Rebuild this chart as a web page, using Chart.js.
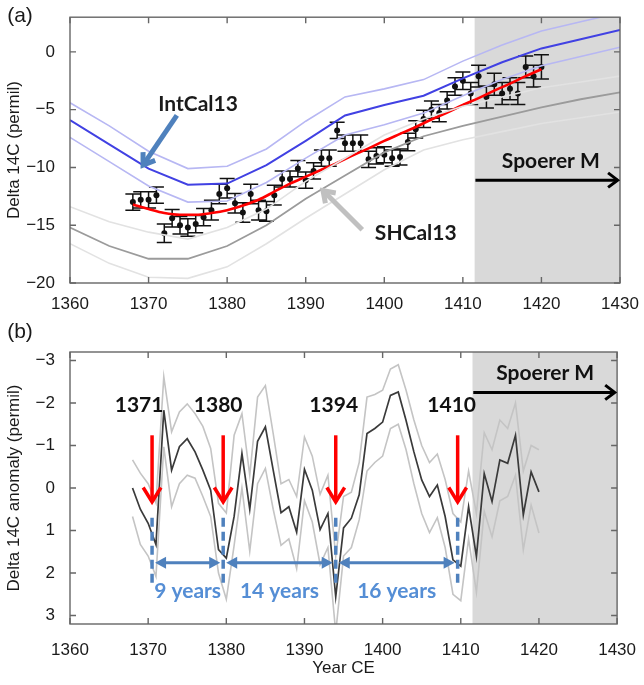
<!DOCTYPE html>
<html><head><meta charset="utf-8">
<script src="https://cdn.jsdelivr.net/npm/chart.js@4.4.1/dist/chart.umd.min.js"></script>
<style>
body{margin:0;background:#fff;width:644px;height:685px;overflow:hidden;position:relative}
#wa{position:absolute;left:0;top:0;width:644px;height:310px}
#wb{position:absolute;left:0;top:310px;width:644px;height:375px}
</style></head><body>
<div id="wa"><canvas id="ca" width="644" height="310"></canvas></div>
<div id="wb"><canvas id="cb" width="644" height="375"></canvas></div>
<script>
// ---------- DATA ----------
const calYears = [1360,1365,1370,1375,1380,1385,1390,1395,1400,1405,1410,1415,1420,1425,1430];
const intcal   = [-5.9,-8.0,-10.1,-11.5,-11.4,-9.8,-7.7,-5.5,-4.6,-3.8,-2.3,-0.9,0.3,1.1,1.9];
const intcalHi = [-4.4,-6.4,-8.6,-10.1,-9.9,-8.4,-6.0,-3.9,-3.2,-2.4,-0.8,0.6,1.8,2.6,3.4];
const intcalLo = [-7.4,-9.5,-11.6,-13.0,-12.9,-11.3,-9.2,-7.2,-6.3,-5.3,-3.8,-2.4,-1.2,-0.4,0.4];
const shcal    = [-15.2,-16.8,-17.9,-17.9,-16.8,-15.0,-12.7,-10.7,-8.7,-7.3,-6.4,-5.6,-4.8,-4.1,-3.5];
const shcalHi  = [-13.4,-14.7,-15.6,-16.2,-15.2,-13.6,-11.2,-9.2,-7.2,-5.8,-4.7,-3.9,-3.1,-2.6,-2.1];
const shcalLo  = [-16.6,-18.3,-19.5,-19.6,-18.6,-16.6,-14.4,-12.3,-10.2,-8.5,-7.6,-6.9,-6.2,-5.7,-5.2];

const fitYears = [1368,1370,1372,1374,1376,1378,1380,1382,1384,1386,1388,1390,1392,1394,1396,1398,1400,1402,1404,1406,1408,1410,1412,1414,1416,1418,1420];
const fitVals  = [-13.2,-13.6,-13.95,-14.1,-14.1,-13.95,-13.7,-13.3,-12.8,-12.1,-11.4,-10.8,-10.2,-9.6,-8.95,-8.35,-7.7,-7.1,-6.5,-5.85,-5.25,-4.6,-4.0,-3.35,-2.75,-2.1,-1.5];

const measYears = [1368,1369,1370,1371,1372,1373,1374,1375,1376,1377,1378,1379,1380,1381,1382,1383,1384,1385,1386,1387,1388,1389,1390,1391,1392,1393,1394,1395,1396,1397,1398,1399,1400,1401,1402,1403,1404,1405,1406,1407,1408,1409,1410,1411,1412,1413,1414,1415,1416,1417,1418,1419,1420];
const measVals  = [-13.0,-12.8,-12.8,-12.4,-15.7,-14.4,-15.0,-15.2,-14.9,-14.3,-13.7,-12.3,-11.8,-13.1,-13.9,-12.3,-13.7,-13.8,-12.4,-11.0,-11.0,-10.1,-11.1,-10.3,-9.2,-9.2,-6.8,-7.9,-7.9,-7.9,-9.3,-9.0,-8.9,-9.2,-9.1,-7.8,-6.7,-5.8,-5.0,-5.3,-4.2,-3.0,-2.5,-3.6,-2.1,-3.9,-2.8,-3.6,-3.2,-3.6,-1.3,-2.1,-1.3];
const measErr   = [0.7,0.7,0.7,0.7,0.8,0.75,0.75,0.75,0.75,0.75,0.85,0.85,0.85,0.85,0.85,0.85,0.85,0.85,0.85,0.7,0.7,0.7,0.7,0.7,0.7,0.7,0.7,0.7,0.7,0.7,0.7,0.7,0.7,0.7,0.7,0.75,0.75,0.75,0.75,0.75,0.75,0.75,0.75,0.95,0.95,0.95,0.95,0.95,0.95,0.95,0.95,0.95,1.05];

const anomYears = measYears;
const anomVals = [0.0,0.5,0.83,1.33,-1.83,-0.42,-0.97,-1.16,-0.85,-0.42,0.05,1.45,1.65,0.67,-0.81,0.5,-1.1,-1.44,-0.42,0.58,0.44,1.04,-0.44,0.05,0.98,0.6,2.56,0.94,0.71,0.16,-1.28,-1.40,-1.55,-2.18,-2.26,-1.59,-0.85,-0.19,0.2,-0.07,0.67,1.69,1.84,0.44,1.61,-0.34,0.32,-0.66,-0.58,-1.24,0.63,-0.38,0.09];
const anomHi  = [-0.66,-0.35,-0.1,0.35,-2.62,-1.32,-1.79,-1.98,-1.75,-1.45,-0.93,0.36,0.59,-1.24,-1.75,-0.3,-2.14,-2.41,-1.28,-0.1,-0.2,0.2,-1.2,-0.75,0.15,-0.3,1.6,0.2,0.1,-0.6,-2.14,-2.2,-2.3,-2.8,-2.9,-2.3,-1.6,-1.0,-0.6,-0.8,-0.2,0.6,0.8,-0.4,0.6,-1.3,-0.9,-1.6,-1.4,-2.0,-0.4,-1.0,-0.9];
const anomLo  = [0.67,1.33,1.6,2.08,-0.97,0.44,-0.1,-0.3,-0.23,0.2,0.67,2.0,2.62,1.35,0.0,1.49,-0.1,-0.46,0.5,1.35,1.2,1.9,0.3,0.8,1.8,1.4,3.4,1.6,1.4,0.75,-0.4,-0.6,-0.75,-1.4,-1.5,-0.9,-0.1,0.6,1.05,0.7,1.4,2.5,2.65,1.2,2.45,0.55,1.15,0.3,0.2,-0.3,1.45,0.4,1.06];

const eventLabels = ['1371','1380','1394','1410'];
const eventYears  = [1370.5,1379.6,1394.0,1409.6];
const intervalLabels = ['9 years','14 years','16 years'];
const spoererStart = 1411.5;
const xTicks  = [1360,1370,1380,1390,1400,1410,1420,1430];
const yTicksA = [-20,-15,-10,-5,0];
const yTicksB = [-3,-2,-1,0,1,2,3];

// ---------- HELPERS ----------
const pts = (xs, ys) => xs.map((x,i)=>({x:x, y:ys[i]}));
const fmt = v => (v < 0 ? '\u2212' + Math.abs(v) : String(v));
Chart.defaults.font.family = '"Liberation Sans", Arial, sans-serif';
Chart.defaults.font.size = 17;
Chart.defaults.color = '#1a1a1a';

function chevron(ctx, x1,y1,x2,y2,color,width,head,spread){
  ctx.save(); ctx.strokeStyle=color; ctx.lineWidth=width; ctx.lineCap='butt'; ctx.lineJoin='miter';
  const a=Math.atan2(y2-y1,x2-x1);
  ctx.beginPath(); ctx.moveTo(x1,y1); ctx.lineTo(x2,y2); ctx.stroke();
  ctx.beginPath();
  ctx.moveTo(x2-head*Math.cos(a-spread), y2-head*Math.sin(a-spread));
  ctx.lineTo(x2,y2);
  ctx.lineTo(x2-head*Math.cos(a+spread), y2-head*Math.sin(a+spread));
  ctx.stroke(); ctx.restore();
}
function triHead(ctx,x,y,dir,color,len,half){
  ctx.save(); ctx.fillStyle=color; ctx.beginPath();
  ctx.moveTo(x,y); ctx.lineTo(x-dir*len,y-half); ctx.lineTo(x-dir*len,y+half); ctx.closePath(); ctx.fill(); ctx.restore();
}
function frameAndTicks(c){
  const ctx=c.ctx, a=c.chartArea, xs=c.scales.x, ys=c.scales.y;
  ctx.save(); ctx.strokeStyle='#666'; ctx.lineWidth=1.4;
  ctx.strokeRect(a.left,a.top,a.right-a.left,a.bottom-a.top);
  ctx.beginPath();
  xs.ticks.forEach(t=>{const p=xs.getPixelForValue(t.value);
    ctx.moveTo(p,a.bottom); ctx.lineTo(p,a.bottom-6); ctx.moveTo(p,a.top); ctx.lineTo(p,a.top+6);});
  ys.ticks.forEach(t=>{const p=ys.getPixelForValue(t.value);
    ctx.moveTo(a.left,p); ctx.lineTo(a.left+6,p); ctx.moveTo(a.right,p); ctx.lineTo(a.right-6,p);});
  ctx.stroke(); ctx.restore();
}
function shade(c){
  const ctx=c.ctx,a=c.chartArea,x0=c.scales.x.getPixelForValue(spoererStart);
  ctx.save(); ctx.fillStyle='#d9d9d9'; ctx.fillRect(x0,a.top,a.right-x0,a.bottom-a.top); ctx.restore();
}
function textAt(ctx,str,x,y,font,color,align){
  ctx.save(); ctx.font=font; ctx.fillStyle=color; ctx.textAlign=align||'center'; ctx.textBaseline='middle';
  ctx.fillText(str,x,y); ctx.restore();
}
const boldFont = 'bold 21px Lato, "Open Sans", sans-serif';

function xScale(pad){
  return {type:'linear',min:1360,max:1430,
    grid:{display:false},border:{display:false},
    afterBuildTicks:s=>{s.ticks=xTicks.map(v=>({value:v}));},
    ticks:{padding:pad,maxRotation:0,callback:v=>String(v),font:{size:17}}};
}
function lineDs(xs,ys,color,w){
  return {type:'line',data:pts(xs,ys),borderColor:color,borderWidth:w,pointRadius:0,fill:false,tension:0};
}

// ---------- PANEL A ----------
const plugA = {
  id:'pa',
  beforeDatasetsDraw(c){ shade(c); },
  beforeDatasetDraw(c,args){
    if(args.index!==7) return;
    const ctx=c.ctx,xs=c.scales.x,ys=c.scales.y;
    ctx.save(); ctx.strokeStyle='#111'; ctx.lineWidth=1.5; ctx.beginPath();
    measYears.forEach((yr,i)=>{
      const px=xs.getPixelForValue(yr), t=ys.getPixelForValue(measVals[i]+measErr[i]), b=ys.getPixelForValue(measVals[i]-measErr[i]);
      ctx.moveTo(px,t); ctx.lineTo(px,b);
      ctx.moveTo(px-7.5,t); ctx.lineTo(px+7.5,t); ctx.moveTo(px-7.5,b); ctx.lineTo(px+7.5,b);
    });
    ctx.stroke(); ctx.restore();
  },
  afterDraw(c){
    const ctx=c.ctx,xs=c.scales.x,ys=c.scales.y;
    frameAndTicks(c);
    const X=v=>xs.getPixelForValue(v), Y=v=>ys.getPixelForValue(v);
    textAt(ctx,'IntCal13',X(1376.3),Y(-4.5),boldFont,'#1a1a1a');
    chevron(ctx,X(1373.6),Y(-5.5),X(1369.3),Y(-9.8),'#4f81bd',5,13,0.6);
    textAt(ctx,'SHCal13',X(1398.8),Y(-15.7),boldFont,'#1a1a1a','left');
    chevron(ctx,X(1397.2),Y(-15.4),X(1392.2),Y(-12.0),'#c0c0c0',5,13,0.6);
    textAt(ctx,'Spoerer M',X(1421.2),Y(-9.5),boldFont,'#111');
    chevron(ctx,X(1411.6),Y(-11.1),X(1429.7),Y(-11.1),'#000',3,12,0.65);
    textAt(ctx,'(a)',20,16,'21px "Liberation Sans", Arial','#1a1a1a');
  }
};

new Chart(document.getElementById('ca'),{
  data:{datasets:[
    lineDs(calYears,shcalLo,'#e2e2e2',1.6),
    lineDs(calYears,shcalHi,'#e2e2e2',1.6),
    lineDs(calYears,shcal,'#9b9b9b',1.8),
    lineDs(calYears,intcalHi,'#b7b7f3',1.6),
    lineDs(calYears,intcalLo,'#b7b7f3',1.6),
    lineDs(calYears,intcal,'#4141e3',2),
    Object.assign(lineDs(fitYears,fitVals,'#ff0000',2.6),{cubicInterpolationMode:'monotone'}),
    {type:'scatter',data:pts(measYears,measVals),pointRadius:3,pointBackgroundColor:'#111',pointBorderWidth:0,showLine:false}
  ]},
  options:{responsive:false,animation:false,events:[],devicePixelRatio:1,
    layout:{padding:{top:12,right:24,left:0,bottom:0}},
    plugins:{legend:{display:false},tooltip:{enabled:false}},
    scales:{
      x:Object.assign(xScale(3),{afterFit:s=>{s.height=27;}}),
      y:{type:'linear',min:-20,max:3,grid:{display:false},border:{display:false},
        afterBuildTicks:s=>{s.ticks=yTicksA.map(v=>({value:v}));},
        afterFit:s=>{s.width=70;},
        ticks:{padding:7,callback:v=>fmt(v),font:{size:17}},
        title:{display:true,text:'Delta 14C (permil)',font:{size:17},padding:{top:4,bottom:0}}}
    }},
  plugins:[plugA]
});

// ---------- PANEL B ----------
const plugB = {
  id:'pb',
  beforeDatasetsDraw(c){ shade(c); },
  afterDraw(c){
    const ctx=c.ctx,xs=c.scales.x,ys=c.scales.y;
    frameAndTicks(c);
    const X=v=>xs.getPixelForValue(v), Y=v=>ys.getPixelForValue(v);
    const offs=[-13,-5,-2,-6];
    eventYears.forEach((yr,i)=>{
      const px=X(yr);
      textAt(ctx,eventLabels[i],px+offs[i],Y(-1.94),boldFont,'#111');
      chevron(ctx,px,Y(-1.24),px,Y(0.33),'#ff0000',3.5,17,0.55);
      ctx.save(); ctx.strokeStyle='#4f81bd'; ctx.lineWidth=3.5; ctx.setLineDash([9,5]);
      ctx.beginPath(); ctx.moveTo(px,Y(0.70)); ctx.lineTo(px,Y(2.3)); ctx.stroke(); ctx.restore();
    });
    for(let i=0;i<3;i++){
      const a=X(eventYears[i])+3, b=X(eventYears[i+1])-3, y=Y(1.76);
      ctx.save(); ctx.strokeStyle='#4f81bd'; ctx.lineWidth=3;
      ctx.beginPath(); ctx.moveTo(a+8,y); ctx.lineTo(b-8,y); ctx.stroke(); ctx.restore();
      triHead(ctx,a,y,-1,'#4f81bd',11,6); triHead(ctx,b,y,1,'#4f81bd',11,6);
      textAt(ctx,intervalLabels[i],(a+b)/2,Y(2.44),boldFont,'#558ed5');
    }
    textAt(ctx,'Spoerer M',X(1420.8),Y(-2.7),boldFont,'#111');
    chevron(ctx,X(1411.6),Y(-2.25),X(1429.7),Y(-2.25),'#000',3,12,0.65);
    textAt(ctx,'(b)',20,22,'21px "Liberation Sans", Arial','#1a1a1a');
  }
};

new Chart(document.getElementById('cb'),{
  data:{datasets:[
    lineDs(anomYears,anomHi,'#c4c4c4',1.6),
    lineDs(anomYears,anomLo,'#c4c4c4',1.6),
    lineDs(anomYears,anomVals,'#3a3a3a',1.7)
  ]},
  options:{responsive:false,animation:false,events:[],devicePixelRatio:1,
    layout:{padding:{top:42,right:24,left:0,bottom:0}},
    plugins:{legend:{display:false},tooltip:{enabled:false}},
    scales:{
      x:Object.assign(xScale(8),{afterFit:s=>{s.height=61;},
        title:{display:true,text:'Year CE',font:{size:17},padding:{top:0,bottom:6}}}),
      y:{type:'linear',min:-3.2,max:3.2,reverse:true,grid:{display:false},border:{display:false},
        afterBuildTicks:s=>{s.ticks=yTicksB.map(v=>({value:v}));},
        afterFit:s=>{s.width=70;},
        ticks:{padding:7,callback:v=>fmt(v),font:{size:17}},
        title:{display:true,text:'Delta 14C anomaly (permil)',font:{size:17},padding:{top:4,bottom:0}}}
    }},
  plugins:[plugB]
});
</script>
</body></html>
